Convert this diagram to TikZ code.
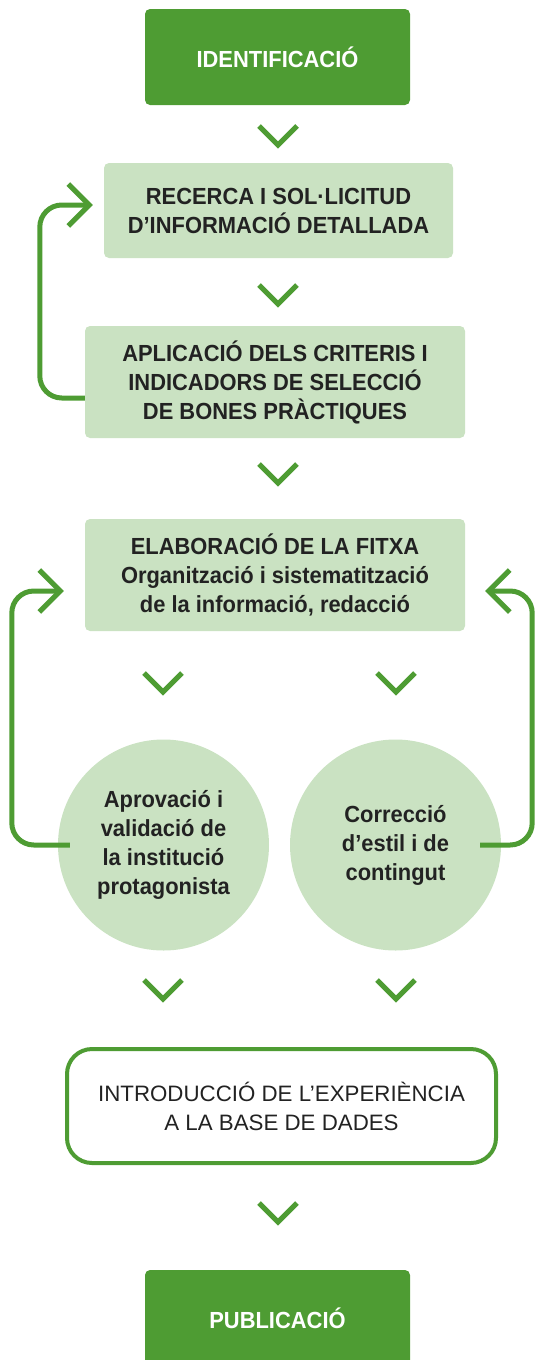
\documentclass[tikz,border=0pt]{standalone}
\usepackage{fontspec}
\setmainfont{Liberation Sans}[FakeStretch=0.94]
\newfontfamily\regfont{Liberation Sans}
\usetikzlibrary{arrows.meta}
\definecolor{dg}{HTML}{4E9C33}
\definecolor{lg}{HTML}{CAE2C2}
\definecolor{tx}{HTML}{222222}
\begin{document}
\begin{tikzpicture}[x=1pt,y=-1pt,
  every node/.style={text=tx, align=center, inner sep=0pt},
  bfont/.style={font=\fontsize{23.3}{29}\selectfont\bfseries},
  rfont/.style={font=\regfont\fontsize{22.3}{29}\selectfont},
  darkbox/.style={bfont, fill=dg, text=white, rounded corners=5pt, minimum width=265pt, minimum height=96pt},
  lightbox/.style={bfont, fill=lg, rounded corners=5pt},
  circ/.style={bfont, circle, fill=lg, minimum size=211pt},
  outl/.style={rfont, draw=dg, line width=4pt, fill=white, rounded corners=25pt, minimum width=429pt, minimum height=114pt},
  chev/.style={draw=dg, line width=5pt},
  loopline/.style={draw=dg, line width=5pt, rounded corners=22pt, -{Straight Barb[length=21pt,width=42pt]}},
  chevron/.pic={\draw[chev] (-19,-10) -- (0,9) -- (19,-10);}
]
\clip (0,0) rectangle (535,1360);
\node[darkbox] (ident) at (277.5,57) {IDENTIFICACIÓ};
\node[lightbox, minimum width=349pt, minimum height=95pt] (rec) at (278.5,210.5) {RECERCA I SOL·LICITUD\\D’INFORMACIÓ DETALLADA};
\node[lightbox, minimum width=380pt, minimum height=112pt] (apl) at (275,382) {APLICACIÓ DELS CRITERIS I\\INDICADORS DE SELECCIÓ\\DE BONES PRÀCTIQUES};
\node[lightbox, minimum width=380pt, minimum height=112pt] (elab) at (275,575) {ELABORACIÓ DE LA FITXA\\Organització i sistematització\\de la informació, redacció};
\node[circ] (apr) at (163.5,845) {Aprovació i\\validació de\\la institució\\protagonista};
\node[circ] (cor) at (395.5,845) {Correcció\\d’estil i de\\contingut};
\node[outl] (intro) at (281.5,1106) {INTRODUCCIÓ DE L’EXPERIÈNCIA\\A LA BASE DE DADES};
\node[darkbox] (pub) at (277.5,1318) {PUBLICACIÓ};

\pic at (278,136) {chevron};
\pic at (278,295) {chevron};
\pic at (278,474) {chevron};
\pic at (163,683) {chevron};
\pic at (396,683) {chevron};
\pic at (163,990) {chevron};
\pic at (396,990) {chevron};
\pic at (278,1213) {chevron};

\draw[loopline] ([yshift=-16pt]apl.west) -- ++(-45,0) |- ([xshift=-11pt,yshift=5.5pt]rec.west);
\draw[loopline] ([xshift=12pt]apr.west) -- ++(-58,0) |- ([xshift=-21pt,yshift=-16pt]elab.west);
\draw[loopline] ([xshift=-21pt]cor.east) -- ++(52,0) |- ([xshift=20pt,yshift=-16pt]elab.east);
\end{tikzpicture}
\end{document}
